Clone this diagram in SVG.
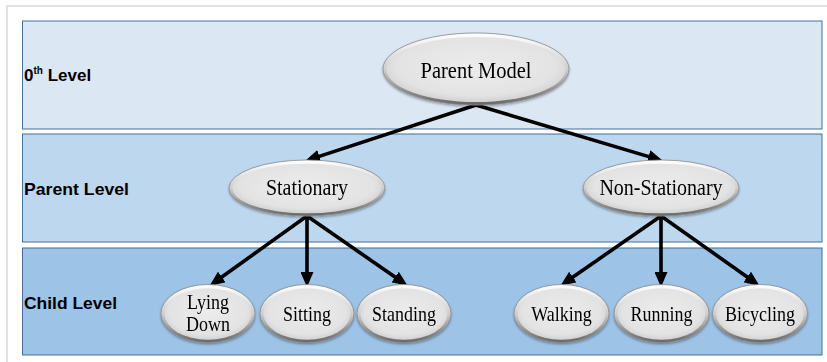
<svg xmlns="http://www.w3.org/2000/svg" width="827" height="362" viewBox="0 0 827 362">
<style>
.band{stroke:#41719c;stroke-width:1}
.lbl{font-family:"Liberation Sans",Arial,sans-serif;font-weight:bold;font-size:17px;fill:#000}
.sup{font-size:10px}
.nt{font-family:"Liberation Serif","Times New Roman",serif;fill:#000;text-anchor:middle}
.rim{fill:url(#rimg);stroke:#8a8a8a;stroke-width:0.8}
.body{fill:url(#bodyg)}
.conn{stroke:#000;stroke-width:3.6;fill:none;marker-end:url(#ah)}
</style>
<defs>
<linearGradient id="rimg" x1="0" y1="0" x2="0" y2="1">
<stop offset="0" stop-color="#ffffff"/>
<stop offset="0.5" stop-color="#cfcfcf"/>
<stop offset="1" stop-color="#666666"/>
</linearGradient>
<radialGradient id="bodyg" cx="0.5" cy="0.45" r="0.6">
<stop offset="0" stop-color="#ececec"/>
<stop offset="0.75" stop-color="#e3e3e3"/>
<stop offset="1" stop-color="#cacaca"/>
</radialGradient>
<filter id="sh" x="-20%" y="-20%" width="140%" height="150%">
<feDropShadow dx="0" dy="1.5" stdDeviation="1.2" flood-color="#000" flood-opacity="0.35"/>
</filter>
<marker id="ah" markerUnits="userSpaceOnUse" markerWidth="15" markerHeight="13" refX="9" refY="6.5" orient="auto">
<path d="M0,0 L15,6.5 L0,13 z" fill="#000"/>
</marker>
</defs>
<rect width="827" height="362" fill="#fff"/>
<path d="M7,362 V6 H827" fill="none" stroke="#d9d9d9" stroke-width="1.5"/>
<g id="bands">
<rect class="band" x="22.5" y="21" width="799.5" height="108" fill="#dce7f4"/>
<rect class="band" x="22.5" y="134" width="799.5" height="108" fill="#bdd7ee"/>
<rect class="band" x="22.5" y="248" width="799.5" height="107" fill="#9dc3e6"/>
</g>
<g id="labels">
<text class="lbl" x="24" y="81">0<tspan class="sup" dy="-7">th</tspan><tspan dy="7"> Level</tspan></text>
<text class="lbl" x="24" y="195" textLength="105" lengthAdjust="spacingAndGlyphs">Parent Level</text>
<text class="lbl" x="24" y="309" textLength="93" lengthAdjust="spacingAndGlyphs">Child Level</text>
</g>
<g id="connectors">
<line class="conn" x1="476" y1="105" x2="310.8" y2="159.1"/>
<line class="conn" x1="476" y1="105" x2="657.1" y2="159.1"/>
<line class="conn" x1="307" y1="216" x2="214.5" y2="282.2"/>
<line class="conn" x1="307" y1="216" x2="307" y2="281"/>
<line class="conn" x1="307" y1="216" x2="402.5" y2="282.2"/>
<line class="conn" x1="661" y1="216" x2="565.5" y2="282.2"/>
<line class="conn" x1="661" y1="216" x2="661" y2="281"/>
<line class="conn" x1="661" y1="216" x2="754.6" y2="282.2"/>
</g>
<g id="parent-model" filter="url(#sh)">
<ellipse class="rim" cx="476" cy="69" rx="93" ry="36"/>
<ellipse class="body" cx="476" cy="69.5" rx="89.5" ry="32.5"/>
<text class="nt" transform="translate(476,78) scale(1,1.12)" font-size="20.5">Parent Model</text>
</g>
<g id="stationary" filter="url(#sh)">
<ellipse class="rim" cx="307" cy="188" rx="78" ry="28"/>
<ellipse class="body" cx="307" cy="188.5" rx="74.5" ry="24.8"/>
<text class="nt" transform="translate(307,195) scale(1,1.12)" font-size="20">Stationary</text>
</g>
<g id="non-stationary" filter="url(#sh)">
<ellipse class="rim" cx="661" cy="188" rx="78" ry="28"/>
<ellipse class="body" cx="661" cy="188.5" rx="74.5" ry="24.8"/>
<text class="nt" transform="translate(661,195) scale(1,1.12)" font-size="20">Non-Stationary</text>
</g>
<g id="lying-down" filter="url(#sh)">
<ellipse class="rim" cx="208" cy="313.5" rx="47" ry="29"/>
<ellipse class="body" cx="208" cy="314" rx="43.5" ry="25.8"/>
<text class="nt" transform="translate(208,309) scale(1,1.12)" font-size="18">Lying</text>
<text class="nt" transform="translate(208,331) scale(1,1.12)" font-size="18">Down</text>
</g>
<g id="sitting" filter="url(#sh)">
<ellipse class="rim" cx="307" cy="313.5" rx="47" ry="29"/>
<ellipse class="body" cx="307" cy="314" rx="43.5" ry="25.8"/>
<text class="nt" transform="translate(307,321) scale(1,1.12)" font-size="18">Sitting</text>
</g>
<g id="standing" filter="url(#sh)">
<ellipse class="rim" cx="404" cy="313.5" rx="47" ry="29"/>
<ellipse class="body" cx="404" cy="314" rx="43.5" ry="25.8"/>
<text class="nt" transform="translate(404,321) scale(1,1.12)" font-size="18">Standing</text>
</g>
<g id="walking" filter="url(#sh)">
<ellipse class="rim" cx="561.5" cy="313.5" rx="47.5" ry="29"/>
<ellipse class="body" cx="561.5" cy="314" rx="44" ry="25.8"/>
<text class="nt" transform="translate(561.5,321) scale(1,1.12)" font-size="18">Walking</text>
</g>
<g id="running" filter="url(#sh)">
<ellipse class="rim" cx="661.5" cy="313.5" rx="47.5" ry="29"/>
<ellipse class="body" cx="661.5" cy="314" rx="44" ry="25.8"/>
<text class="nt" transform="translate(661.5,321) scale(1,1.12)" font-size="18">Running</text>
</g>
<g id="bicycling" filter="url(#sh)">
<ellipse class="rim" cx="760" cy="313.5" rx="47.5" ry="29"/>
<ellipse class="body" cx="760" cy="314" rx="44" ry="25.8"/>
<text class="nt" transform="translate(760,321) scale(1,1.12)" font-size="18">Bicycling</text>
</g>
</svg>
